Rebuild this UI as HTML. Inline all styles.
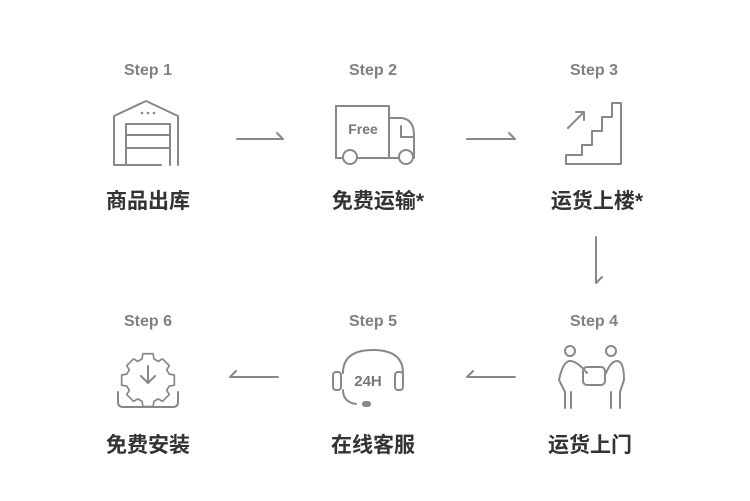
<!DOCTYPE html>
<html><head><meta charset="utf-8"><style>
body{margin:0;width:750px;height:501px;background:#fff;overflow:hidden;font-family:"Liberation Sans","Noto Sans CJK SC",sans-serif}
svg{position:absolute;left:0;top:0}
</style></head><body>
<svg width="750" height="501" viewBox="0 0 750 501">
<g font-family="Liberation Sans, sans-serif" font-weight="bold" font-size="16" fill="#808080" text-anchor="middle">
<text x="148" y="75">Step 1</text><text x="373" y="75">Step 2</text><text x="594" y="75">Step 3</text>
<text x="148" y="326">Step 6</text><text x="373" y="326">Step 5</text><text x="594" y="326">Step 4</text>
</g>
<g font-family="Liberation Sans, Noto Sans CJK SC, sans-serif" font-weight="bold" font-size="21" fill="#333" text-anchor="middle">
<text x="148" y="208">商品出库</text><text x="378" y="208">免费运输*</text><text x="597" y="208">运货上楼*</text>
<text x="148" y="452">免费安装</text><text x="373" y="452">在线客服</text><text x="590" y="452">运货上门</text>
</g>
<g fill="none" stroke="#888" stroke-width="2" stroke-linecap="round" stroke-linejoin="round">
<path d="M237 139H283L277 133"/><path d="M467 139H515L509 133"/>
<path d="M596 237V283L602 277"/>
<path d="M278 377H230L236 371"/><path d="M515 377H467L473 371"/>
<path d="M161 165H114V116L146 101L178 116V165"/><path d="M126 165V124H170V165"/><path d="M126 135H170M126 148H170"/>
<path d="M343 158H336V106H389V158H357"/><path d="M389 158H399M389 118H402Q414 120 414 135V158H413"/><path d="M401 126V137H413"/>
<circle cx="350" cy="157" r="7"/><circle cx="406" cy="157" r="7"/>
<path d="M566 164H621V103H612V117H602V131H592V145H582V155H566Z"/><path d="M568 128L584 112M576 112H584V120"/>
<g transform="translate(148 375) scale(0.85) translate(-148 -375)">
<path d="M142 350h12l1 6 5 3 5-3 8 8-3 5 3 5 6 1v12l-6 1-3 5 3 5-8 8-5-3-5 3-1 6h-12l-1-6-5-3-5 3-8-8 3-5-3-5-6-1v-12l6-1 3-5-3-5 8-8 5 3 5-3z"/>
</g>
<path d="M148 366V383M141 376L148 383L155 376"/><path d="M118 392v10q0 5 5 5h50q5 0 5-5v-10"/>
<path d="M343 373Q343 350 373 350Q403 350 403 373"/><rect x="333" y="372" width="8" height="18" rx="3"/><rect x="395" y="372" width="8" height="18" rx="3"/>
<path d="M343 390Q343 402 356 404"/>
<circle cx="570" cy="351" r="5"/><circle cx="611" cy="351" r="5"/>
<path d="M565 408V392L559 380Q563 361 570 361Q577 361 587 373M606 373Q611 361 617 361Q624 361 624 380L620 392V408M571 392V408M611 392V408"/>
<rect x="583" y="367" width="22" height="18" rx="4"/>
</g>
<g fill="#888"><circle cx="142" cy="113" r="1.3"/><circle cx="148" cy="113" r="1.3"/><circle cx="154" cy="113" r="1.3"/>
<rect x="362" y="401" width="9" height="6" rx="3"/></g>
<text x="363" y="134" font-family="Liberation Sans,sans-serif" font-weight="bold" font-size="14" fill="#777" text-anchor="middle">Free</text>
<text x="368" y="386" font-family="Liberation Sans,sans-serif" font-weight="bold" font-size="15" fill="#777" text-anchor="middle">24H</text>
</svg>
</body></html>
